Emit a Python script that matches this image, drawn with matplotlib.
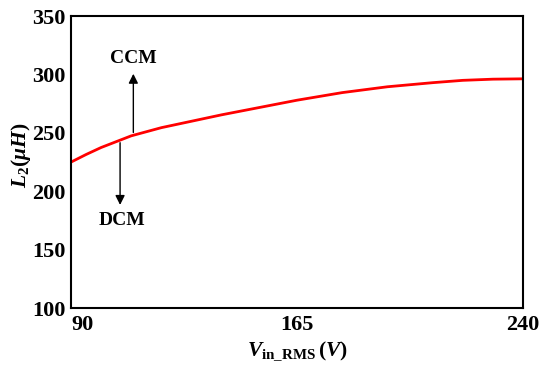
import matplotlib
matplotlib.use("Agg")
import matplotlib.pyplot as plt

# 输入电压有效值 (V) 与临界电感 L2 (uH)
v_rms = [90, 95, 100, 105, 110, 120, 130, 140, 150, 165, 180, 195, 210, 220, 230, 240]
l2 = [225, 231.5, 237.5, 242.5, 247.5, 254.5, 260, 265.5, 270.5, 278, 284.5, 289.5, 293, 295, 296, 296.3]
x_ticks = [90, 165, 240]
y_ticks = [100, 150, 200, 250, 300, 350]

plt.rcParams["font.family"] = "Liberation Serif"
plt.rcParams["font.weight"] = "bold"
plt.rcParams["mathtext.fontset"] = "custom"
plt.rcParams["mathtext.rm"] = "Liberation Serif:bold"
plt.rcParams["mathtext.it"] = "Liberation Serif:italic:bold"
plt.rcParams["mathtext.bf"] = "Liberation Serif:bold"

fig = plt.figure(figsize=(5.5, 3.74), dpi=100)
ax = fig.add_axes([0.129, 0.176, 0.822, 0.781])

ax.plot(v_rms, l2, color="#ff0000", lw=2)

# 模式分界箭头
ax.annotate("", xy=(110.7, 303), xytext=(110.7, 248),
            arrowprops=dict(arrowstyle="-|>", color="black", lw=1, mutation_scale=14))
ax.annotate("", xy=(106.3, 186), xytext=(106.3, 244),
            arrowprops=dict(arrowstyle="-|>", color="black", lw=1, mutation_scale=14))
ax.text(110.7, 314, "CCM", ha="center", va="center", fontsize=14, fontweight="bold")
ax.text(107, 175, "DCM", ha="center", va="center", fontsize=14, fontweight="bold")

ax.set_xlim(90, 240)
ax.set_ylim(100, 350)
ax.set_xticks(x_ticks)
ax.set_yticks(y_ticks)
ax.tick_params(length=0, labelsize=16, pad=4)
ax.tick_params(axis="x", pad=5)
for lab in ax.get_xticklabels() + ax.get_yticklabels():
    lab.set_fontweight("bold")
ax.get_xticklabels()[0].set_horizontalalignment("left")
for s in ax.spines.values():
    s.set_linewidth(1.5)

ax.set_xlabel(r"$V_{\mathrm{in\_RMS}}\,(V)$", fontsize=15.5, labelpad=3)
ax.set_ylabel(r"$L_{\mathrm{2}}(\mu H)$", fontsize=15.5)
ax.yaxis.set_label_coords(-0.083, 0.525)

fig.savefig("out.png", dpi=100)
